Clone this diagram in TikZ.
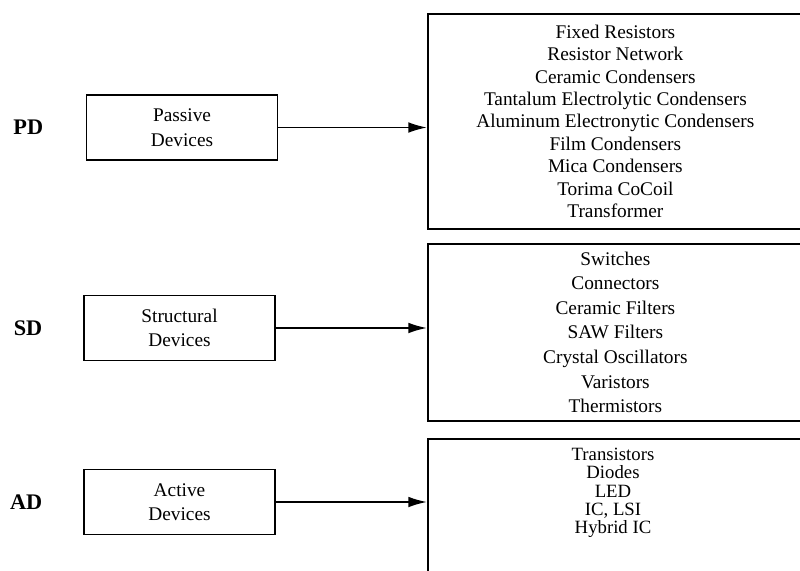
\documentclass[tikz,border=0pt]{standalone}
\usepackage{fontspec}
\setmainfont{Liberation Serif}
\usetikzlibrary{positioning, arrows.meta}

\begin{document}
\begin{tikzpicture}[x=0.3mm, y=-0.3mm,
		devbox/.style={rectangle, draw, line width=1.5pt, minimum width=57.3mm, minimum height=19.5mm, align=center, font=\fontsize{16.5}{21}\selectfont},
		listbox/.style={rectangle, draw, line width=1.5pt, anchor=north west, minimum width=112.5mm, inner sep=2pt, align=center},
		tag/.style={font=\fontsize{19}{22}\selectfont\bfseries},
		arrow/.style={-{Latex[length=5.6mm, width=3.2mm]}, line width=1.5pt}
		]
		\path[use as bounding box, clip] (0,0) rectangle (800,571);
		% Device groups on the left
		\foreach \n/\x/\y/\t in {pd/182/127.5/Passive, sd/179.5/328/Structural, ad/179.5/502/Active} {
			\node[devbox] (\n) at (\x, \y) {\t\\Devices};
		}
		% Group tags
		\node[tag, left=11.5mm of pd] (pd-tag) {PD};
		\node[tag, left=11mm of sd] (sd-tag) {SD};
		\node[tag, left=11mm of ad] (ad-tag) {AD};
		% Component lists
		\node[listbox, minimum height=64.5mm, font=\fontsize{16.5}{19.2}\selectfont] (pd-list) at (427, 13) {
			Fixed Resistors\\Resistor Network\\Ceramic Condensers\\Tantalum Electrolytic Condensers\\
			Aluminum Electronytic Condensers\\Film Condensers\\Mica Condensers\\Torima CoCoil\\Transformer};
		\node[listbox, minimum height=53.1mm, font=\fontsize{16.5}{21}\selectfont] (sd-list) at (427, 243) {
			Switches\\Connectors\\Ceramic Filters\\SAW Filters\\Crystal Oscillators\\Varistors\\Thermistors};
		\node[listbox, minimum height=50mm] (ad-list) at (427, 438) {};
		\node[align=center, font=\fontsize{16}{15.6}\selectfont] (ad-items) at (613, 493) {
			Transistors\\Diodes\\LED\\IC, LSI\\Hybrid IC};
		% Arrows
		\foreach \n in {pd, sd, ad} {
			\draw[arrow] (\n.east) -- (\n.east -| \n-list.west);
		}
	\end{tikzpicture}
\end{document}
